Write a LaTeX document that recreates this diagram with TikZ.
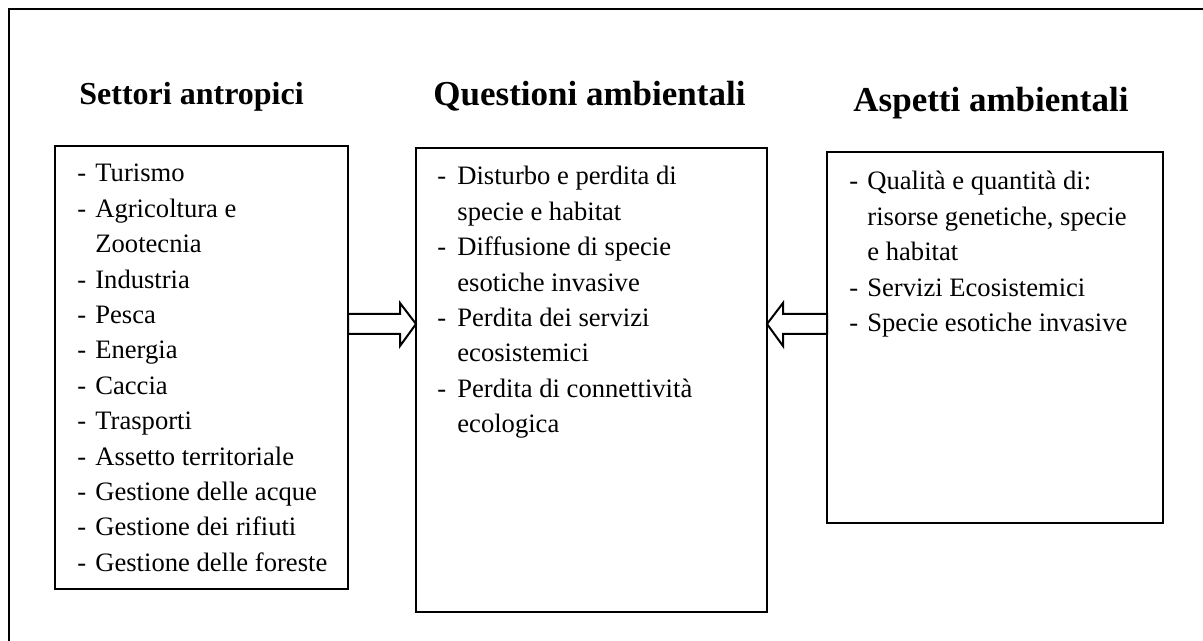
\documentclass[tikz,border=0pt]{standalone}
\usepackage{fontspec}
\setmainfont{Liberation Serif}
\usetikzlibrary{positioning,calc}

\tikzset{
  riquadro/.style={draw, line width=1pt, anchor=north west, inner sep=0pt, outer sep=0pt},
  voci/.style={anchor=base west, inner sep=0pt, align=left,
    font=\fontsize{13.3}{17.7}\selectfont},
  titolo/.style={anchor=base west, inner sep=0pt,
    font=\fontsize{16}{19}\selectfont\bfseries},
  titologrande/.style={titolo, font=\fontsize{17.5}{21}\selectfont\bfseries},
  freccia/.style={draw, line width=1pt, fill=white, line join=miter},
}

\begin{document}
\begin{tikzpicture}[x=0.5pt, y=-0.5pt]
    \useasboundingbox (0,0) rectangle (1203,641);

    % cornice esterna
    \draw[line width=1.3pt] (9,641) -- (9,9) -- (1203,9);

    % titoli
    \node[titolo] (t1) at (79,105) {Settori antropici};
    \node[titologrande] (t2) at (433,106) {Questioni ambientali};
    \node[titologrande] (t3) at (853,112) {Aspetti ambientali};

    % riquadri
    \node[riquadro, minimum width=146.5pt, minimum height=221.5pt] (sett) at (55,146) {};
    \node[riquadro, minimum width=175.5pt, minimum height=232pt] (quest) at (416,148) {};
    \node[riquadro, minimum width=168pt, minimum height=185.5pt] (asp) at (827,152) {};

    % elenchi
    \node[voci] (l1) at ($(sett.north west)+(22,36)$) {%
      \begin{tabular}[t]{@{}p{9pt}@{}l@{}}
        - & Turismo\\
        - & Agricoltura e\\
          & Zootecnia\\
        - & Industria\\
        - & Pesca\\
        - & Energia\\
        - & Caccia\\
        - & Trasporti\\
        - & Assetto territoriale\\
        - & Gestione delle acque\\
        - & Gestione dei rifiuti\\
        - & Gestione delle foreste
      \end{tabular}};
    \node[voci] (l2) at ($(quest.north west)+(21,37)$) {%
      \begin{tabular}[t]{@{}p{10pt}@{}l@{}}
        - & Disturbo e perdita di\\
          & specie e habitat\\
        - & Diffusione di specie\\
          & esotiche invasive\\
        - & Perdita dei servizi\\
          & ecosistemici\\
        - & Perdita di connettività\\
          & ecologica
      \end{tabular}};
    \node[voci] (l3) at ($(asp.north west)+(22,38)$) {%
      \begin{tabular}[t]{@{}p{9pt}@{}l@{}}
        - & Qualità e quantità di:\\
          & risorse genetiche, specie\\
          & e habitat\\
        - & Servizi Ecosistemici\\
        - & Specie esotiche invasive
      \end{tabular}};

    % frecce
    \coordinate (liv) at (0,324);
    \draw[freccia] ($(sett.east|-liv)+(0,-10)$) -- ($(quest.west|-liv)+(-16,-10)$)
        -- ($(quest.west|-liv)+(-16,-21)$) -- (quest.west|-liv)
        -- ($(quest.west|-liv)+(-16,22)$) -- ($(quest.west|-liv)+(-16,10)$)
        -- ($(sett.east|-liv)+(0,10)$) -- cycle;
    \draw[freccia] ($(asp.west|-liv)+(0,-10)$) -- ($(quest.east|-liv)+(16,-10)$)
        -- ($(quest.east|-liv)+(16,-21)$) -- (quest.east|-liv)
        -- ($(quest.east|-liv)+(16,22)$) -- ($(quest.east|-liv)+(16,10)$)
        -- ($(asp.west|-liv)+(0,10)$) -- cycle;
\end{tikzpicture}
\end{document}
